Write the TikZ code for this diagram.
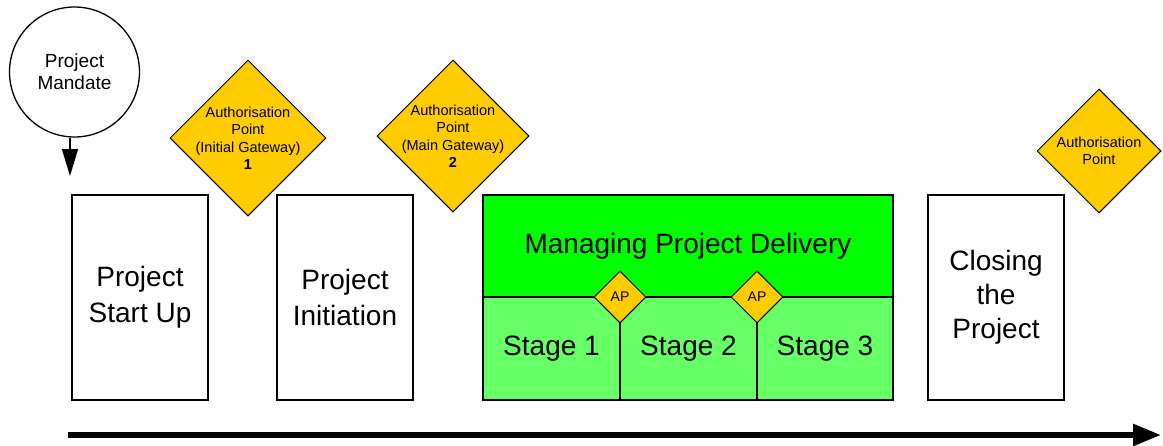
\documentclass[tikz,border=0pt]{standalone}
\usepackage{fontspec}
\setmainfont{Liberation Sans}
\usetikzlibrary{shapes.geometric,arrows.meta}
\definecolor{gold}{HTML}{FFCC00}
\definecolor{bright}{HTML}{00FF00}
\definecolor{pale}{HTML}{66FF66}
\begin{document}
\begin{tikzpicture}[x=1pt,y=-1pt,
  phase/.style={draw,line width=1.2pt,inner sep=0,align=center,
    font=\fontsize{28}{36}\selectfont},
  gate/.style={draw,line width=1pt,fill=gold,shape=diamond,inner sep=0,
    minimum width=#1,minimum height=#1},
  gatetext/.style={align=center,inner sep=0,font=\fontsize{14.5}{17.5}\selectfont}]
\useasboundingbox (0,0) rectangle (1163,445);

% project mandate and its entry arrow
\node[draw,circle,line width=1.3pt,minimum size=130,inner sep=0,align=center,
  font=\fontsize{19}{22}\selectfont] (mandate) at (74.5,72) {Project\\Mandate};
\coordinate (mtip) at (70,176);
\draw[line width=1.3pt,-{Triangle[width=16pt,length=27pt]}] (mandate.south -| mtip) -- (mtip);

% process boxes
\node[phase,minimum width=136,minimum height=205] (su) at (140,297.5) {Project\\Start Up};
\node[phase,minimum width=136,minimum height=205] (pi) at (345,297.5) {Project\\Initiation};
\node[phase,minimum width=136,minimum height=205,font=\fontsize{28}{34}\selectfont] (cp) at (996,297.5) {Closing\\the\\Project};

% managing project delivery with its stages
\node[phase,fill=bright,minimum width=410,minimum height=102] (mpd) at (688,246) {Managing Project Delivery};
\node[phase,fill=pale,minimum width=137,minimum height=103] (s1) at (551.5,348.5) {Stage 1};
\node[phase,fill=pale,minimum width=137,minimum height=103] (s2) at (688.5,348.5) {Stage 2};
\node[phase,fill=pale,minimum width=136,minimum height=103] (s3) at (825,348.5) {Stage 3};

% stage authorisation points
\node[gate=52] (ap1) at (620,297) {};
\node[gatetext,font=\fontsize{14}{16}\selectfont] at (ap1) {AP};
\node[gate=52] (ap2) at (757,297) {};
\node[gatetext,font=\fontsize{14}{16}\selectfont] at (ap2) {AP};

% gateways
\node[gate=156] (g1) at (248,138) {};
\node[gatetext] (g1t) at (g1) {Authorisation\\Point\\(Initial Gateway)\\\textbf{1}};
\node[gate=152] (g2) at (453,136) {};
\node[gatetext] (g2t) at (g2) {Authorisation\\Point\\(Main Gateway)\\\textbf{2}};
\node[gate=124] (g3) at (1099,151) {};
\node[gatetext] (g3t) at (g3) {Authorisation\\Point};

% time line
\coordinate (tl) at (68,435);
\coordinate (tr) at (1161,435);
\draw[line width=5.5pt,-{Triangle[width=21pt,length=28pt]}] (tl) -- (tr);
\end{tikzpicture}
\end{document}
